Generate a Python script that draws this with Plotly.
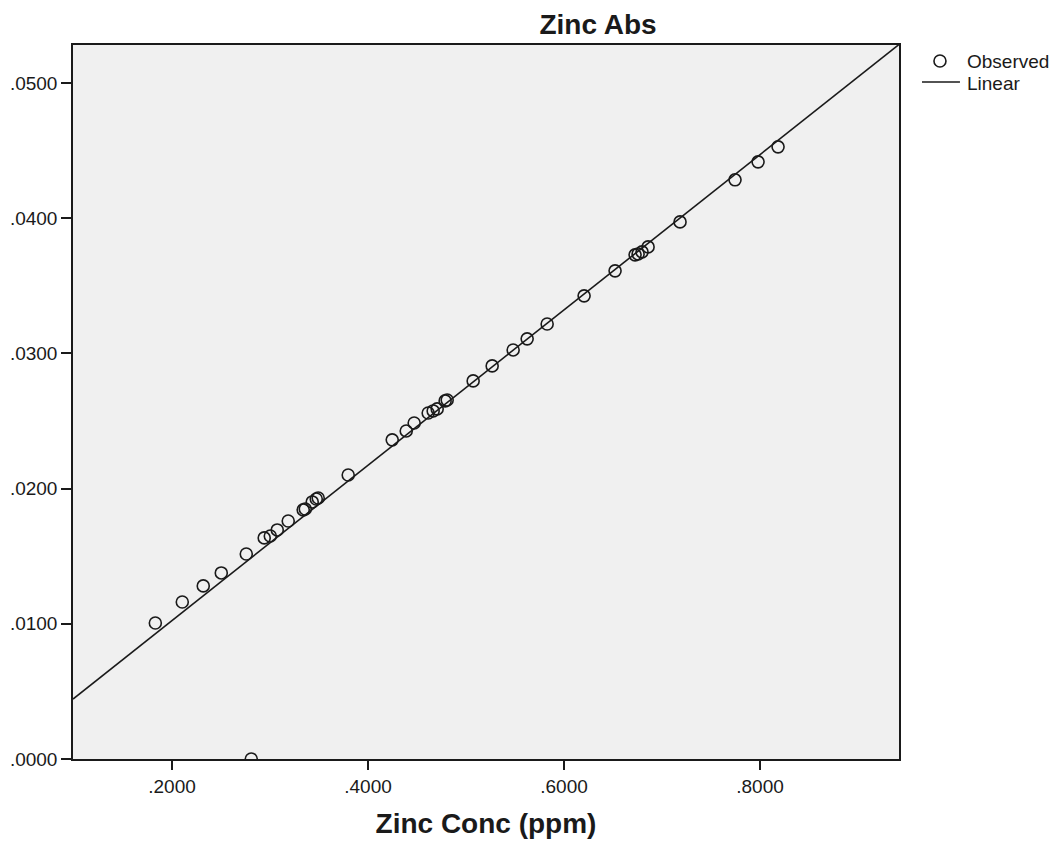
import plotly.graph_objects as go

zinc_conc = [0.1830, 0.2105, 0.2319, 0.2503, 0.2758, 0.2809, 0.2941, 0.3003, 0.3074,
             0.3186, 0.3339, 0.3360, 0.3431, 0.3472, 0.3492, 0.3798, 0.4247, 0.4390,
             0.4471, 0.4614, 0.4665, 0.4706, 0.4787, 0.4808, 0.5073, 0.5267, 0.5481,
             0.5624, 0.5828, 0.6205, 0.6521, 0.6725, 0.6756, 0.6796, 0.6858, 0.7184,
             0.7745, 0.7980, 0.8184]
zinc_abs = [0.01006, 0.01161, 0.01280, 0.01376, 0.01516, 0.00000, 0.01635, 0.01649, 0.01694,
            0.01760, 0.01842, 0.01849, 0.01901, 0.01923, 0.01930, 0.02100, 0.02360, 0.02426,
            0.02485, 0.02559, 0.02574, 0.02589, 0.02648, 0.02655, 0.02796, 0.02907, 0.03025,
            0.03107, 0.03217, 0.03425, 0.03610, 0.03728, 0.03735, 0.03750, 0.03787, 0.03972,
            0.04283, 0.04416, 0.04527]

# Linear fit parameters
fit_intercept = -0.00125
fit_slope = 0.05743

x_range = [0.0990, 0.9418]
y_range = [0.0, 0.0528]

x_ticks = [0.2, 0.4, 0.6, 0.8]
y_ticks = [0.0, 0.01, 0.02, 0.03, 0.04, 0.05]

legend_labels = ["Observed", "Linear"]


def fmt(v):
    s = f"{v:.4f}"
    return s[1:] if s.startswith("0") else s


line_x = list(x_range)
line_y = [fit_intercept + fit_slope * v for v in line_x]

FONT = "Liberation Sans, Arial, sans-serif"
INK = "#1a1a1a"

fig = go.Figure()
fig.add_trace(go.Scatter(
    x=zinc_conc, y=zinc_abs, mode="markers", name=legend_labels[0],
    marker=dict(symbol="circle-open", size=12, color=INK,
                line=dict(width=1.6, color=INK)),
    cliponaxis=True, showlegend=False,
))
fig.add_trace(go.Scatter(
    x=line_x, y=line_y, mode="lines", name=legend_labels[1],
    line=dict(color=INK, width=1.6), showlegend=False,
))

# Legend (SPSS style, placed to the right of the plot)
fig.add_shape(type="circle", xref="paper", yref="paper",
              xsizemode="pixel", ysizemode="pixel",
              xanchor=1.0496, yanchor=0.9776, x0=-6, x1=6, y0=-6, y1=6,
              line=dict(color=INK, width=1.6))
fig.add_shape(type="line", xref="paper", yref="paper",
              x0=1.0278, x1=1.0738, y0=0.9482, y1=0.9482,
              line=dict(color=INK, width=1.6))
fig.add_annotation(text=legend_labels[0], xref="paper", yref="paper",
                   x=1.0799, y=0.9762, xanchor="left", yanchor="middle",
                   showarrow=False, font=dict(size=19, family=FONT, color=INK))
fig.add_annotation(text=legend_labels[1], xref="paper", yref="paper",
                   x=1.0799, y=0.9454, xanchor="left", yanchor="middle",
                   showarrow=False, font=dict(size=19, family=FONT, color=INK))

fig.update_layout(
    width=1060, height=842,
    margin=dict(l=73, r=161, t=45, b=83, autoexpand=False),
    paper_bgcolor="white",
    plot_bgcolor="#f0f0f0",
    font=dict(family=FONT, color=INK, size=19),
    title=dict(text="<b>Zinc Abs</b>", x=598 / 1060, xanchor="center",
               y=1 - 24.5 / 842, yanchor="middle", xref="container", yref="container",
               font=dict(size=28, family=FONT, color=INK)),
    showlegend=False,
    xaxis=dict(range=x_range, tickvals=x_ticks, ticktext=[fmt(v) for v in x_ticks],
               showgrid=False, zeroline=False, showline=True, linecolor=INK,
               linewidth=1.5, mirror=True, ticks="outside", ticklen=9, tickwidth=1.5,
               tickcolor=INK, tickfont=dict(size=19), automargin=False,
               title=dict(text="<b>Zinc Conc (ppm)</b>", font=dict(size=28), standoff=18)),
    yaxis=dict(range=y_range, tickvals=y_ticks, ticktext=[fmt(v) for v in y_ticks],
               showgrid=False, zeroline=False, showline=True, linecolor=INK,
               linewidth=1.5, mirror=True, ticks="outside", ticklen=10, tickwidth=1.5,
               tickcolor=INK, tickfont=dict(size=19), automargin=False),
)

fig.write_html("out.html")
